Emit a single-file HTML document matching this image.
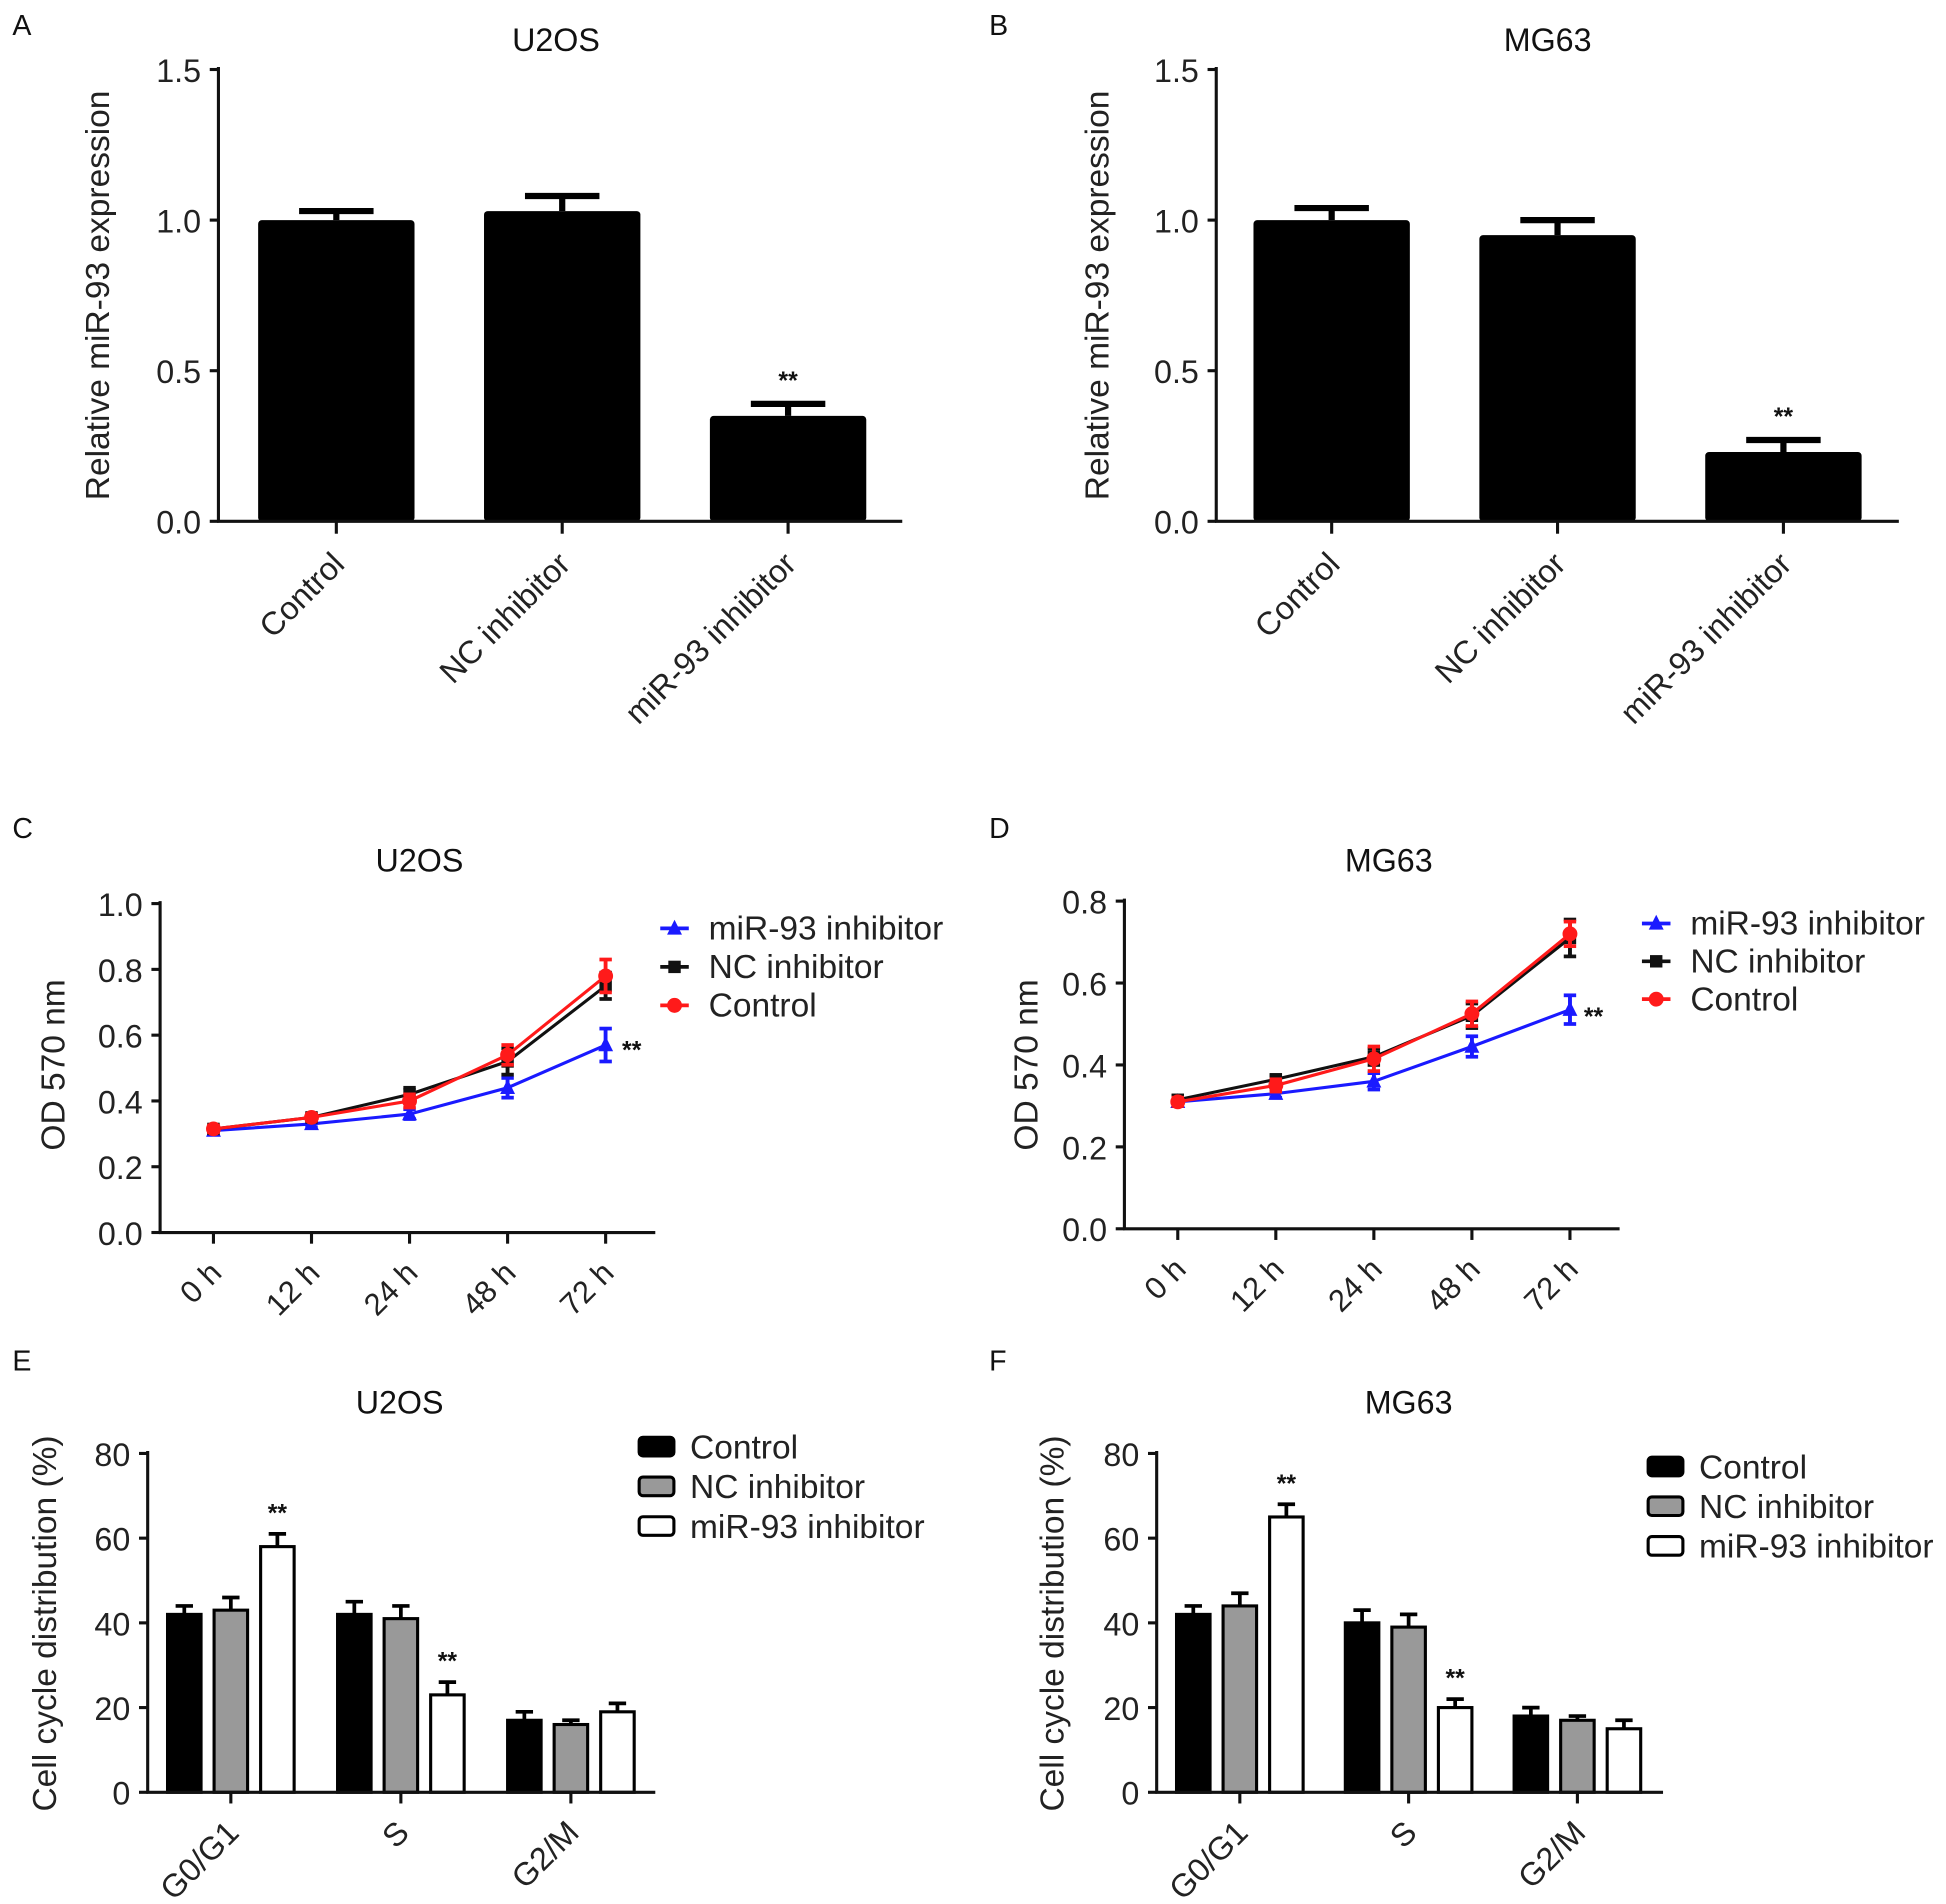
<!DOCTYPE html>
<html><head><meta charset="utf-8"><style>
html,body{margin:0;padding:0;background:#fff;}
svg{display:block;font-family:"Liberation Sans",Arial,sans-serif;}
</style></head><body>
<svg id="fig" width="1946" height="1904" viewBox="0 0 1568 1534" preserveAspectRatio="none" xmlns="http://www.w3.org/2000/svg"></svg>
<script>
// ---- data ----
const barCats = ["Control", "NC inhibitor", "miR-93 inhibitor"];
const aValues = [1.0, 1.03, 0.35];
const aErrors = [0.03, 0.05, 0.04];
const bValues = [1.0, 0.95, 0.23];
const bErrors = [0.04, 0.05, 0.04];
const expTicks = [0.0, 0.5, 1.0, 1.5];
const expTickLabels = ["0.0", "0.5", "1.0", "1.5"];

const timeCats = ["0 h", "12 h", "24 h", "48 h", "72 h"];
const seriesNames = ["miR-93 inhibitor", "NC inhibitor", "Control"];
const cBlue = [0.31, 0.33, 0.36, 0.44, 0.57];
const cBlueErr = [0.01, 0.01, 0.015, 0.03, 0.05];
const cBlack = [0.315, 0.35, 0.42, 0.52, 0.75];
const cBlackErr = [0.01, 0.01, 0.02, 0.04, 0.04];
const cRed = [0.315, 0.35, 0.40, 0.54, 0.78];
const cRedErr = [0.01, 0.01, 0.02, 0.03, 0.05];
const cTicks = [0.0, 0.2, 0.4, 0.6, 0.8, 1.0];
const cTickLabels = ["0.0", "0.2", "0.4", "0.6", "0.8", "1.0"];
const dBlue = [0.31, 0.33, 0.36, 0.445, 0.535];
const dBlueErr = [0.01, 0.01, 0.02, 0.025, 0.035];
const dBlack = [0.315, 0.365, 0.42, 0.52, 0.71];
const dBlackErr = [0.01, 0.01, 0.02, 0.03, 0.045];
const dRed = [0.31, 0.35, 0.415, 0.525, 0.72];
const dRedErr = [0.01, 0.015, 0.03, 0.03, 0.03];
const dTicks = [0.0, 0.2, 0.4, 0.6, 0.8];
const dTickLabels = ["0.0", "0.2", "0.4", "0.6", "0.8"];

const phaseCats = ["G0/G1", "S", "G2/M"];
const groupNames = ["Control", "NC inhibitor", "miR-93 inhibitor"];
const eControl = [42, 42, 17];
const eNC = [43, 41, 16];
const eMiR = [58, 23, 19];
const eControlErr = [2, 3, 2];
const eNCErr = [3, 3, 1];
const eMiRErr = [3, 3, 2];
const fControl = [42, 40, 18];
const fNC = [44, 39, 17];
const fMiR = [65, 20, 15];
const fControlErr = [2, 3, 2];
const fNCErr = [3, 3, 1];
const fMiRErr = [3, 2, 2];
const pctTicks = [0, 20, 40, 60, 80];
const pctTickLabels = ["0", "20", "40", "60", "80"];

const NS = "http://www.w3.org/2000/svg";
const svg = document.getElementById("fig");
function mk(parent, tag, attrs, text) {
  const e = document.createElementNS(NS, tag);
  for (const k in attrs) e.setAttribute(k, attrs[k]);
  if (text !== undefined) e.textContent = text;
  parent.appendChild(e);
  return e;
}
function scaleY(y0, y1, v0, v1) { return v => y0 + (v - v0) / (v1 - v0) * (y1 - y0); }

function panelLabel(g, x, y, t) {
  const e = mk(g, "text", {x: x, y: y, "font-size": 23, fill: "#111"}, t);
  
  
}
function title(g, x, y, t) {
  const e = mk(g, "text", {x: x, y: y, "font-size": 26, "text-anchor": "middle", fill: "#111"}, t);
  
  
}
function yAxis(g, ax, yTop, yBot, ticks, labels, ys, fs, ytitle, tx, ty) {
  const l = mk(g, "line", {x1: ax, y1: yTop, x2: ax, y2: yBot + 1, stroke: "#111", "stroke-width": 2.5});
  
  
  ticks.forEach((t, i) => {
    const y = ys(t);
    const tk = mk(g, "line", {x1: ax - 7, y1: y, x2: ax, y2: y, stroke: "#111", "stroke-width": 2.5});
    
    
    const tl = mk(g, "text", {x: ax - 14, y: y + 10, "font-size": fs, "text-anchor": "end", fill: "#222"}, labels[i]);
    
    
  });
  const yt = mk(g, "text", {x: tx, y: ty, "font-size": 27, "text-anchor": "middle", fill: "#222", transform: `rotate(-90 ${tx} ${ty})`}, ytitle);
  
  
}
function xAxis(g, x0, x1, y) {
  const l = mk(g, "line", {x1: x0 - 1, y1: y, x2: x1, y2: y, stroke: "#111", "stroke-width": 2.5});
  
  
}
function xTick(g, x, y, len, label, fs, dx, dy) {
  const tk = mk(g, "line", {x1: x, y1: y, x2: x, y2: y + len, stroke: "#111", "stroke-width": 2.5});
  
  
  const lx = x + dx, ly = y + dy;
  const tl = mk(g, "text", {x: lx, y: ly, "font-size": fs, "text-anchor": "end", fill: "#222", transform: `rotate(-45 ${lx} ${ly})`}, label);
  
  
}
function errBar(g, x, yv, ye, capW, color, sw) {
  const v = mk(g, "line", {x1: x, y1: yv, x2: x, y2: ye, stroke: color, "stroke-width": sw});
  
  
  const c = mk(g, "line", {x1: x - capW / 2, y1: ye, x2: x + capW / 2, y2: ye, stroke: color, "stroke-width": sw});
  
  
}
function stars(g, x, y) {
  const s = mk(g, "text", {x: x, y: y, "font-size": 20, "font-weight": "bold", "text-anchor": "middle", fill: "#111"}, "**");
  
  
}

// ---- Panel A/B: expression bars ----
function exprPanel(name, lab, labX, ax, axEnd, ttl, ttlX, vals, errs, firstX, step, barW, ytX) {
  const g = mk(svg, "g", {});
  
  
  const ys = scaleY(420, 56, 0, 1.5);
  panelLabel(g, labX, 28, lab);
  title(g, ttlX, 41, ttl);
  vals.forEach((v, i) => {
    const cx = firstX + i * step;
    errBar(g, cx, ys(v), ys(v + errs[i]), 60, "#000", 5);
    const r = mk(g, "rect", {x: cx - barW / 2, y: ys(v), width: barW, height: ys(0) - ys(v), fill: "#000", rx: 3});
    
    
    xTick(g, cx, 420, 10, barCats[i], 26, 8, 36);
  });
  stars(g, firstX + 2 * step, ys(vals[2] + errs[2]) - 12);
  yAxis(g, ax, 54, 420, expTicks, expTickLabels, ys, 26, "Relative miR-93 expression", ytX, 238);
  xAxis(g, ax, axEnd, 420);
}
exprPanel("panel-a", "A", 10, 176, 727, "U2OS", 448, aValues, aErrors, 271, 182, 126, 88);
exprPanel("panel-b", "B", 797, 980, 1530, "MG63", 1247, bValues, bErrors, 1073, 182, 126, 893);

// ---- Panel C/D: growth curves ----
function linePanel(name, lab, labX, ax, axEnd, yTopV, ticks, tickLabels, ttl, ttlX, series, errs, x0, xStep, legX, legY, starXY, ytX) {
  const g = mk(svg, "g", {});
  
  
  const yBot = name === "panel-c" ? 993 : 990;
  const yTop = name === "panel-c" ? 728 : 726;
  const ys = scaleY(yBot, yTop, 0, yTopV);
  panelLabel(g, labX, 675, lab);
  title(g, ttlX, 702, ttl);
  yAxis(g, ax, yTop - 2, yBot, ticks, tickLabels, ys, 26, "OD 570 nm", ytX, 858);
  xAxis(g, ax, axEnd, yBot);
  timeCats.forEach((c, i) => xTick(g, x0 + i * xStep, yBot, 9, c, 25, 8, 34));
  const colors = ["#1a1aff", "#111", "#ff1a1a"];
  const order = [0, 1, 2];
  order.forEach(si => {
    const vals = series[si];
    const pts = vals.map((v, i) => (x0 + i * xStep) + "," + ys(v)).join(" ");
    const pl = mk(g, "polyline", {points: pts, fill: "none", stroke: colors[si], "stroke-width": 2.5});
    
    
    vals.forEach((v, i) => {
      const x = x0 + i * xStep;
      errBar(g, x, ys(v - errs[si][i]), ys(v + errs[si][i]), 10, colors[si], 3);
      errBar(g, x, ys(v + errs[si][i]), ys(v - errs[si][i]), 10, colors[si], 3);
      let m;
      if (si === 0) m = mk(g, "polygon", {points: `${x},${ys(v) - 7} ${x - 6},${ys(v) + 5} ${x + 6},${ys(v) + 5}`, fill: colors[si]});
      else if (si === 1) m = mk(g, "rect", {x: x - 5, y: ys(v) - 5, width: 10, height: 10, fill: colors[si]});
      else m = mk(g, "circle", {cx: x, cy: ys(v), r: 6, fill: colors[si]});
      
      
    });
  });
  seriesNames.forEach((n, si) => {
    const y = legY + si * (name === "panel-c" ? 31 : 30.5);
    const ll = mk(g, "line", {x1: legX, y1: y, x2: legX + 23, y2: y, stroke: colors[si], "stroke-width": 3});
    
    
    const cx = legX + 11.5;
    let m;
    if (si === 0) m = mk(g, "polygon", {points: `${cx},${y - 7} ${cx - 6},${y + 5} ${cx + 6},${y + 5}`, fill: colors[si]});
    else if (si === 1) m = mk(g, "rect", {x: cx - 5, y: y - 5, width: 10, height: 10, fill: colors[si]});
    else m = mk(g, "circle", {cx: cx, cy: y, r: 6, fill: colors[si]});
    
    
    const t = mk(g, "text", {x: legX + 39, y: y + 9, "font-size": 27, fill: "#222"}, n);
    
    
  });
  stars(g, starXY[0], starXY[1]);
}
linePanel("panel-c", "C", 10, 129, 528, 1.0, cTicks, cTickLabels, "U2OS", 338, [cBlue, cBlack, cRed], [cBlueErr, cBlackErr, cRedErr], 172, 79, 532, 748, [509, 853], 52);
linePanel("panel-d", "D", 797, 906, 1305, 0.8, dTicks, dTickLabels, "MG63", 1119, [dBlue, dBlack, dRed], [dBlueErr, dBlackErr, dRedErr], 949, 79, 1323, 744, [1284, 826], 836);

// ---- Panel E/F: cell cycle ----
function cyclePanel(name, lab, labX, ax, axEnd, ttl, ttlX, groups, errs, firstGroupX, groupStep, legX, legY, ytX) {
  const g = mk(svg, "g", {});
  
  
  const ys = scaleY(1444, 1171, 0, 80);
  panelLabel(g, labX, 1104, lab);
  title(g, ttlX, 1139, ttl);
  const fills = ["#000", "#999", "#fff"];
  const bw = 27, gap = 37.5;
  phaseCats.forEach((c, pi) => {
    const center = firstGroupX + pi * groupStep;
    groups.forEach((vals, gi) => {
      const cx = center + (gi - 1) * gap;
      const v = vals[pi];
      errBar(g, cx, ys(v), ys(v + errs[gi][pi]), 14, "#000", 3);
      const r = mk(g, "rect", {x: cx - bw / 2, y: ys(v), width: bw, height: ys(0) - ys(v), fill: fills[gi], stroke: "#000", "stroke-width": 2.5});
      
      
    });
    xTick(g, center, 1444, 9, c, 26, 8, 34);
  });
  stars(g, firstGroupX + gap, ys(groups[2][0] + errs[2][0]) - 10);
  stars(g, firstGroupX + groupStep + gap, ys(groups[2][1] + errs[2][1]) - 10);
  yAxis(g, ax, 1169, 1444, pctTicks, pctTickLabels, ys, 26, "Cell cycle distribution (%)", ytX, 1308);
  xAxis(g, ax, axEnd, 1444);
  groupNames.forEach((n, gi) => {
    const y = legY + gi * 32;
    const b = mk(g, "rect", {x: legX, y: y - 7, width: 28, height: 15, rx: 3, fill: fills[gi], stroke: "#000", "stroke-width": 2.5});
    
    
    const t = mk(g, "text", {x: legX + 41, y: y + 10, "font-size": 27, fill: "#222"}, n);
    
    
  });
}
cyclePanel("panel-e", "E", 10, 119, 528, "U2OS", 322, [eControl, eNC, eMiR], [eControlErr, eNCErr, eMiRErr], 186, 137, 515, 1165, 45);
cyclePanel("panel-f", "F", 797, 932, 1340, "MG63", 1135, [fControl, fNC, fMiR], [fControlErr, fNCErr, fMiRErr], 999, 136, 1328, 1181, 857);
</script>
</body></html>
